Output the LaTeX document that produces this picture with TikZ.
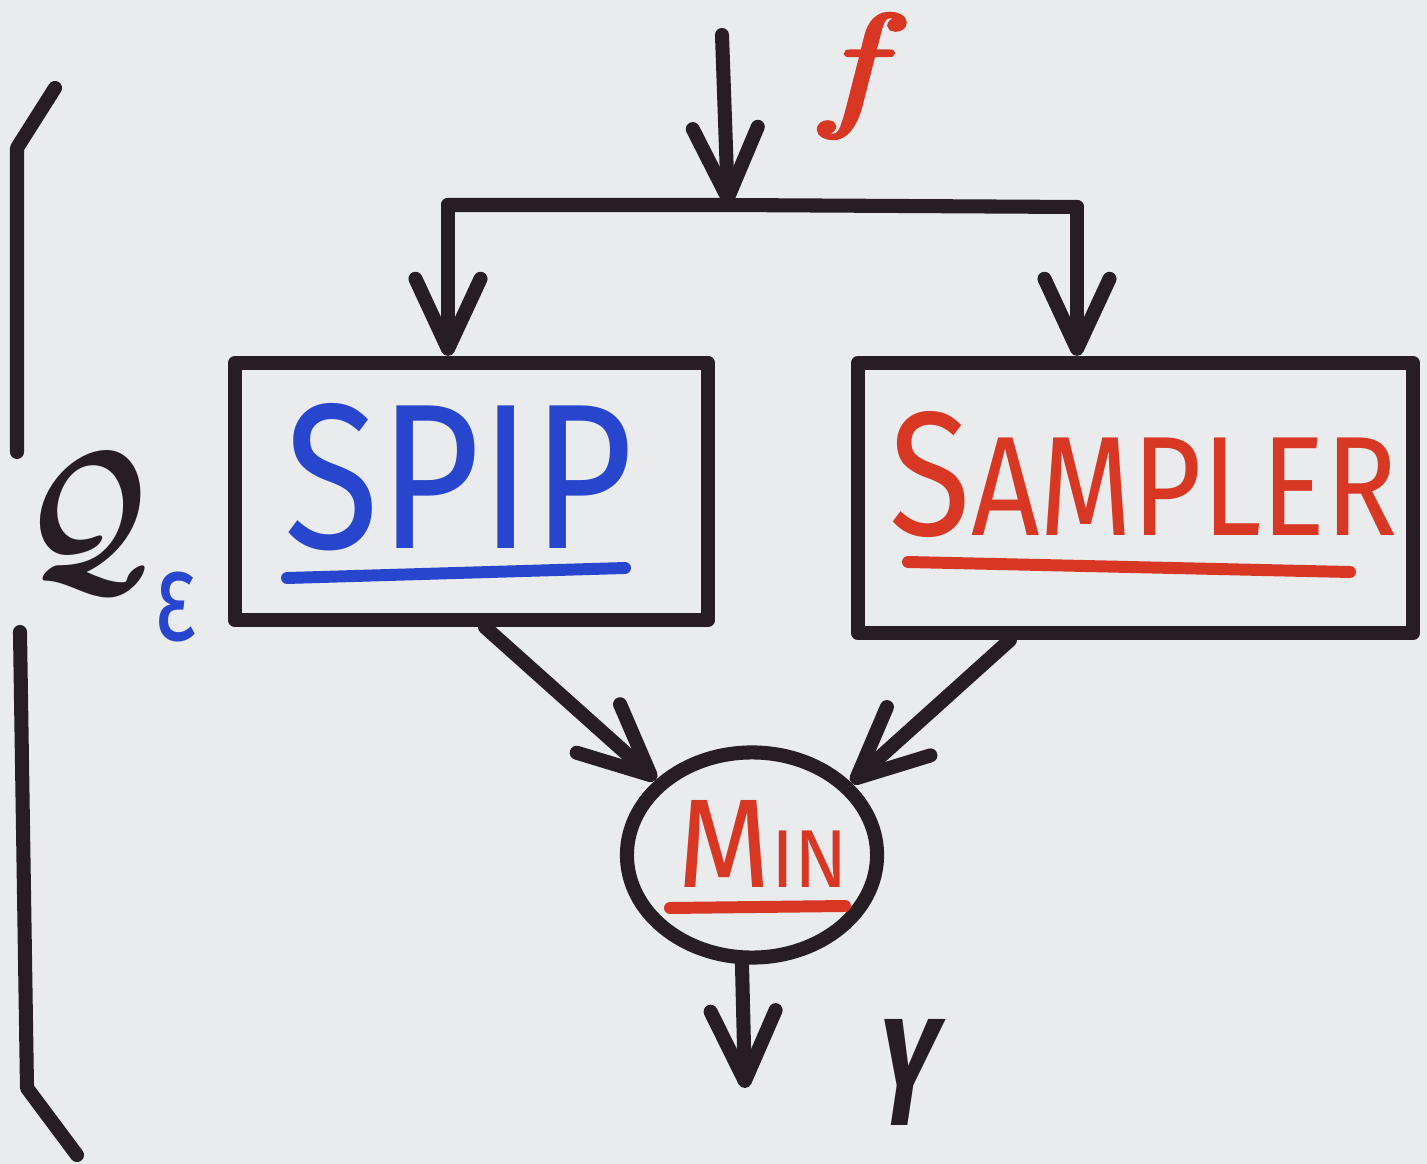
\documentclass[tikz,border=0pt]{standalone}
\usepackage{fontspec}
\setmainfont{Fira Sans}
\newfontface\fface[FakeBold=2.5]{lmroman10-italic.otf}
\usepackage{bm}
\usepackage{graphicx}
\usetikzlibrary{arrows.meta,shapes.geometric}
\definecolor{ink}{RGB}{38,30,34}
\definecolor{bluink}{RGB}{40,70,205}
\definecolor{redink}{RGB}{215,55,35}
\definecolor{paper}{RGB}{233,235,237}
\begin{document}
\begin{tikzpicture}[x=0.01cm,y=-0.01cm,
  marker/.style={draw=ink,line width=4pt,line cap=round,line join=round},
  arr/.style={marker,-{Straight Barb[length=7mm,width=6.5mm,round]}},
  box/.style={draw=ink,line width=4pt,line join=round,rectangle,inner sep=0pt},
  lbl/.style={inner sep=0pt,outer sep=0pt},
  uline/.style={line width=3.4pt,line cap=round}]
\fill[paper] (0,0) rectangle (1427,1164);
\useasboundingbox (0,0) rectangle (1427,1164);

% boxes and circle
\node[box,minimum width=4.73cm,minimum height=2.57cm] (spip) at (471.5,491.5) {};
\node[box,minimum width=5.55cm,minimum height=2.70cm] (sampler) at (1135.5,498) {};
\node[draw=ink,line width=4pt,ellipse,minimum width=2.5cm,minimum height=2.05cm,inner sep=0pt] (min) at (752,855) {};

% texts
\node[lbl,text=bluink] (spiptext) at (459,477.5) {\resizebox{3.48cm}{1.45cm}{SPIP}};
\draw[bluink,uline] (287,578) -- (625,568);
\node[lbl,text=redink] (samplertext) at (1144,475) {\resizebox{5.08cm}{1.24cm}{{\fontsize{20}{24}\selectfont S}{\fontsize{16}{19}\selectfont AMPLER}}};
\draw[redink,uline] (908,562) -- (1350,572);
\node[lbl,text=redink] (mintext) at (763,843.5) {\resizebox{1.70cm}{0.87cm}{{\fontsize{20}{24}\selectfont M}{\fontsize{13}{16}\selectfont IN}}};
\draw[redink,uline] (670,908) -- (845,906);

\node[lbl,text=redink] (flabel) at (851,76) {\resizebox*{0.55cm}{1.25cm}{\fontsize{36}{40}\fface f}};
\node[lbl,text=ink,xslant=0.15] (ylabel) at (907,1072) {\resizebox{0.6cm}{1.06cm}{\bfseries Y}};
\node[lbl,text=ink] (qlabel) at (87.5,521.5) {\resizebox*{1.25cm}{1.37cm}{$\bm{\mathcal{Q}}$}};
\node[lbl,text=bluink] (eps) at (176,607) {\resizebox*{0.42cm}{0.70cm}{ε}};

% bracket
\draw[marker] (55,88) -- (17,148) -- (17,452);
\draw[marker] (20,632) -- (27,1088) -- (77,1155);

% connectors
\coordinate (ftop) at (722,35);
\coordinate (split) at (728,205);
\coordinate (lcorner) at (448,205);
\coordinate (rcorner) at (1077,207);
\coordinate (yend) at (745,1088);
\draw[arr] (ftop) -- (split);
\draw[marker] (lcorner) -- (split) -- (rcorner);
\draw[arr] (lcorner) -- (lcorner |- spip.north);
\draw[arr] (rcorner) -- (rcorner |- sampler.north);
\draw[arr] ([xshift=0.135cm]spip.south) -- (min.142);
\draw[arr] ([xshift=-1.255cm]sampler.south) -- (min.36);
\draw[arr] ([xshift=-0.1cm]min.south) -- (yend);
\end{tikzpicture}
\end{document}
